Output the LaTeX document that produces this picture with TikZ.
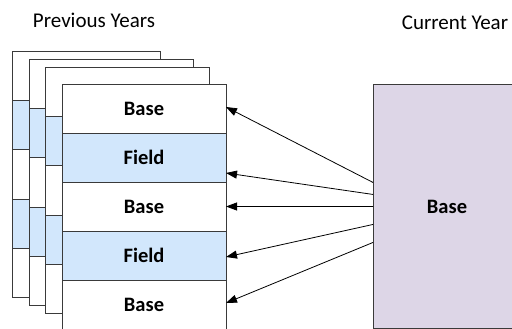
\documentclass[tikz,border=0pt]{standalone}
\usepackage{fontspec}
\setmainfont{Carlito}
\usetikzlibrary{arrows.meta,positioning,calc}
\definecolor{fieldblue}{HTML}{D2E7FC}
\definecolor{curlilac}{HTML}{DDD6E7}
\definecolor{edgegray}{HTML}{3A3A3A}
\tikzset {
	cell/.style={rectangle, draw=edgegray, line width=0.9pt, minimum width=164pt, minimum height=49pt,
					inner sep=0pt, outer sep=0pt, font=\fontsize{20.5}{22}\selectfont\bfseries},
	baserow/.style={cell, fill=white},
	fieldrow/.style={cell, fill=fieldblue},
	caption/.style={font=\fontsize{21}{23}\selectfont, inner sep=0pt},
	link/.style={-{Triangle[length=11pt, width=8pt]}, line width=0.8pt, black}
}
\begin{document}
\begin{tikzpicture}[x=1pt, y=-1pt, node distance=0pt]
					\useasboundingbox (0,0) rectangle (512,329);
					% earlier years, stacked behind
					\foreach \l/\r/\t in {12/160/51, 29/193/59, 45/209/67} {
						\filldraw[draw=edgegray, fill=white, line width=0.9pt] (\l,\t) rectangle (\r,\t+246);
						\filldraw[draw=edgegray, fill=fieldblue, line width=0.9pt] (\l,\t+49) rectangle (\r,\t+98);
						\filldraw[draw=edgegray, fill=fieldblue, line width=0.9pt] (\l,\t+148) rectangle (\r,\t+197);
					}
					% latest of the previous years
					\node[baserow] (base1) at (144,108.5) {Base};
					\node[fieldrow, below=of base1] (field1) {Field};
					\node[baserow, below=of field1] (base2) {Base};
					\node[fieldrow, below=of base2] (field2) {Field};
					\node[baserow, below=of field2] (base3) {Base};
					% current year
					\node[rectangle, draw=edgegray, fill=curlilac, line width=0.9pt, minimum width=150pt, minimum height=244pt,
						anchor=north west, inner sep=0pt] (cur) at (373,84) {};
					\node[font=\fontsize{20.5}{22}\selectfont\bfseries] (curlabel) at (447,207) {Base};
					\node[caption] (prevtitle) at (94,20) {Previous Years};
					\node[caption] (curtitle) at (455,23) {Current Year};
					% links
					\draw[link] ([yshift=24pt]cur.west) -- ([yshift=1.5pt]base1.east);
					\draw[link] ([yshift=12pt]cur.west) -- ([yshift=-15.5pt]field1.east);
					\draw[link] (cur.west) -- (base2.east);
					\draw[link] ([yshift=-18pt]cur.west) -- ([yshift=-1.5pt]field2.east);
					\draw[link] ([yshift=-36pt]cur.west) -- ([yshift=1.5pt]base3.east);
\end{tikzpicture}
\end{document}
